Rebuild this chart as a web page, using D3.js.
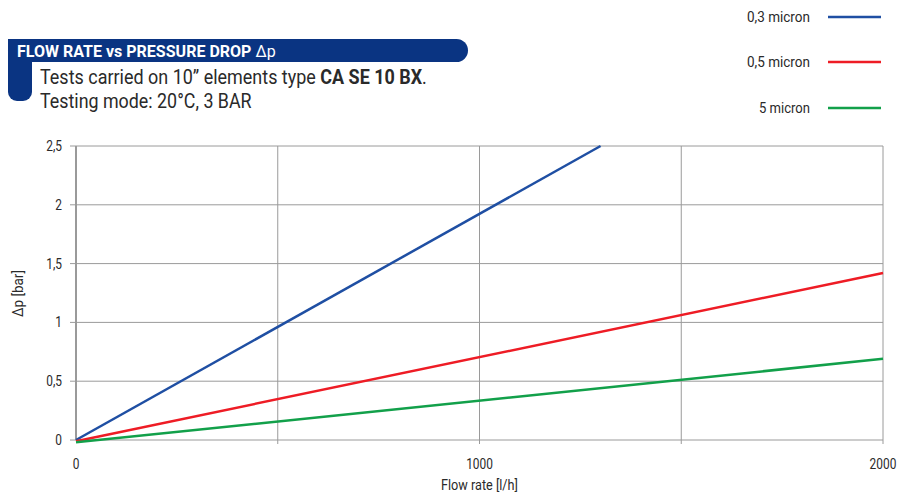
<!DOCTYPE html>
<html><head><meta charset="utf-8">
<script src="https://cdn.jsdelivr.net/npm/d3@7"></script>
<style>
body{margin:0;background:#fff;}
text{font-family:Roboto,"Liberation Sans",sans-serif;}
</style></head>
<body><svg id="c" width="913" height="492"></svg>
<script>
const seriesNames = ["0,3 micron","0,5 micron","5 micron"];
const seriesColors = ["#1f4fa3","#ee1c25","#12a04a"];
const flow03 = [0, 1300];
const dp03 = [0, 2.5];
const flow05 = [0, 2000];
const dp05 = [-0.01, 1.42];
const flow5 = [0, 2000];
const dp5 = [-0.02, 0.69];
const xGrid = [0, 500, 1000, 1500, 2000];
const xTickLabels = [0, 1000, 2000];
const yTicks = [0, 0.5, 1, 1.5, 2, 2.5];

const svg = d3.select("#c");
const x = d3.scaleLinear().domain([0,2000]).range([76,883]);
const y = d3.scaleLinear().domain([0,2.5]).range([440,146]);
const fmt = v => String(v).replace(".", ",");
const TC = "#2a2a2a";

function fitGroup(gx, gy, width, build){
  const outer = svg.append("g").attr("transform",`translate(${gx},${gy})`);
  const inner = outer.append("g");
  build(inner);
  const w = inner.node().getBBox().width;
  inner.attr("transform",`scale(${width/w},1)`);
  return outer;
}

// header banner
const blue = "#0a3482";
svg.append("rect").attr("x",8).attr("y",39).attr("width",460).attr("height",23).attr("rx",11.5).attr("fill",blue);
svg.append("rect").attr("x",8).attr("y",39).attr("width",24).attr("height",62).attr("rx",9).attr("fill",blue);
svg.append("rect").attr("x",8).attr("y",39).attr("width",30).attr("height",12).attr("fill",blue);
fitGroup(17,57,259,g=>{
  const t = g.append("text").attr("fill","#fff").attr("font-weight","bold").attr("font-size",16.5);
  t.append("tspan").text("FLOW RATE vs PRESSURE DROP ");
  t.append("tspan").attr("font-weight","normal").text("\u0394p");
});
fitGroup(40,84,387,g=>{
  const t = g.append("text").attr("font-size",20.5).attr("fill",TC);
  t.append("tspan").text("Tests carried on 10\u201d elements type ");
  t.append("tspan").attr("font-weight","bold").text("CA SE 10 BX");
  t.append("tspan").text(".");
});
fitGroup(40,108,212,g=>{
  g.append("text").attr("font-size",20.5).attr("fill",TC).text("Testing mode: 20\u00b0C, 3 BAR");
});

// legend
const legY = [17, 62, 108];
const legW = [63, 63, 51];
seriesNames.forEach((n,i)=>{
  fitGroup(810-legW[i],legY[i]+5,legW[i],g=>{
    g.append("text").attr("font-size",14).attr("fill",TC).text(n);
  });
  svg.append("line").attr("x1",828).attr("x2",881).attr("y1",legY[i]).attr("y2",legY[i]).attr("stroke",seriesColors[i]).attr("stroke-width",2.5);
});

// grid
const g = svg.append("g");
yTicks.forEach(t=>{
  g.append("line").attr("x1",70).attr("x2",883).attr("y1",y(t)).attr("y2",y(t)).attr("stroke","#9a9a9a").attr("stroke-width",1);
  g.append("text").attr("x",62).attr("y",y(t)+5).attr("text-anchor","end").attr("font-size",14).attr("fill",TC)
    .attr("transform",`translate(62,0) scale(0.85,1) translate(-62,0)`).text(fmt(t));
});
xGrid.forEach(t=>{
  g.append("line").attr("x1",x(t)).attr("x2",x(t)).attr("y1",y(2.5)).attr("y2",t===0?y(0):y(0)+4).attr("stroke","#9a9a9a").attr("stroke-width",t===0?2:1);
});
xTickLabels.forEach(t=>{
  g.append("text").attr("x",x(t)).attr("y",469).attr("text-anchor","middle").attr("font-size",14).attr("fill",TC)
    .attr("transform",`translate(${x(t)},0) scale(0.85,1) translate(${-x(t)},0)`).text(t);
});
fitGroup(441,490,77,g=>{
  g.append("text").attr("font-size",14).attr("fill",TC).text("Flow rate [l/h]");
});
svg.append("text").attr("transform","translate(23,317) rotate(-90)").attr("font-size",14).attr("fill",TC)
  .attr("textLength",47).attr("lengthAdjust","spacingAndGlyphs").text("\u0394p [bar]");

// series
const line = d3.line().x(d=>x(d[0])).y(d=>y(d[1]));
const series = [d3.zip(flow03,dp03), d3.zip(flow05,dp05), d3.zip(flow5,dp5)];
series.forEach((s,i)=>{
  svg.append("path").attr("d",line(s)).attr("fill","none").attr("stroke",seriesColors[i]).attr("stroke-width",2.5);
});
</script></body></html>
